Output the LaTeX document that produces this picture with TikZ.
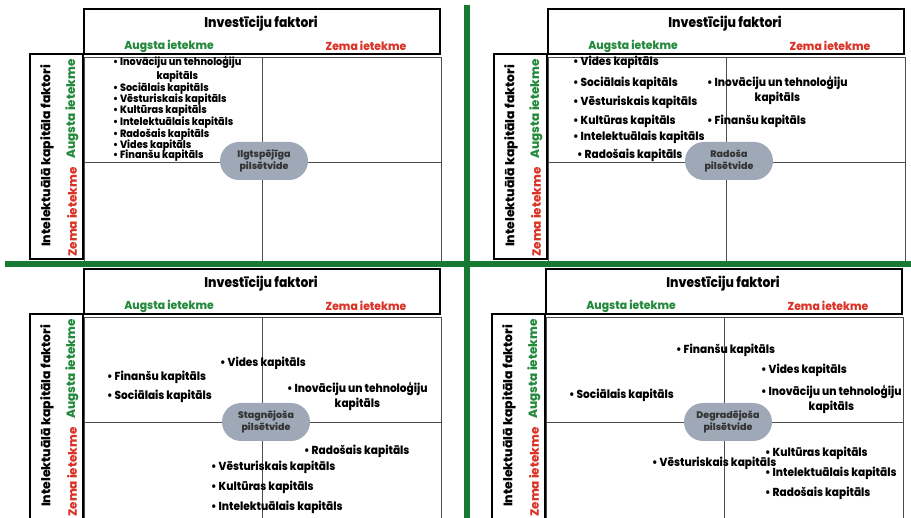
\documentclass[tikz,border=0pt]{standalone}
\usepackage{fontspec}
\IfFontExistsTF{Poppins ExtraBold}
  {\setmainfont{Poppins}[BoldFont={Poppins ExtraBold}]}
  {\setmainfont{Poppins}[BoldFeatures={FakeBold=1.5}]}
\usetikzlibrary{positioning}

\definecolor{hiGreen}{RGB}{38,138,62}
\definecolor{loRed}{RGB}{218,52,40}
\definecolor{sepGreen}{RGB}{22,122,52}
\definecolor{hubGray}{RGB}{158,168,182}

\begin{document}
\begin{tikzpicture}[x=1pt,y=1pt,yscale=-1,xscale=1,
  frame/.style={line width=1.6pt},
  grid/.style={draw=black!70,line width=0.8pt},
  hdr/.style={font=\fontsize{14}{15}\selectfont\bfseries,inner sep=0pt,xscale=0.88},
  vhdr/.style={font=\fontsize{12.4}{13}\selectfont\bfseries,inner sep=0pt,rotate=90},
  hi/.style={font=\fontsize{11.5}{12}\selectfont\bfseries,text=hiGreen,inner sep=0pt,xscale=0.94},
  lo/.style={font=\fontsize{11.5}{12}\selectfont\bfseries,text=loRed,inner sep=0pt,xscale=0.94},
  vhi/.style={font=\fontsize{12}{13}\selectfont\bfseries,text=hiGreen,inner sep=0pt,rotate=90},
  vlo/.style={font=\fontsize{12}{13}\selectfont\bfseries,text=loRed,inner sep=0pt,rotate=90},
  item/.style={anchor=west,inner sep=0pt,align=center,xscale=0.91,font=\fontsize{11.6}{15}\selectfont\bfseries},
  smallitem/.style={item,font=\fontsize{10.6}{14}\selectfont\bfseries},
  hub/.style={fill=hubGray,rounded corners=19pt,minimum width=88pt,minimum height=38pt,
    inner sep=0pt,align=center,text=black!80,font=\fontsize{9.5}{11.5}\selectfont\bfseries}]
\useasboundingbox (0,0) rectangle (911,518);
\clip (0,0) rectangle (911,518);

%Panels: frames and axis labels
\foreach \dx/\dy/\p in {0/0/a,464/0/b,0/260/c,462/260/d}{
  \begin{scope}[shift={(\dx,\dy)}]
    \draw[grid] (84,57) rectangle (441,262);
    \draw[grid] (262,57) -- (262,262) (84,162) -- (441,162);
    \draw[frame] (84,9) rectangle (440,54);
    \draw[frame] (30,54) rectangle (83,259);
    \node[hdr] (inv\p) at (261,24) {Investīciju faktori};
    \node[hi] (invhi\p) at (169,46) {Augsta ietekme};
    \node[lo] (invlo\p) at (366,46) {Zema ietekme};
    \node[vhdr] (ikf\p) at (47,156) {Intelektuālā kapitāla faktori};
    \node[vhi] (ikfhi\p) at (72,109) {Augsta ietekme};
    \node[vlo] (ikflo\p) at (72,212) {Zema ietekme};
  \end{scope}}

%Separators
\draw[sepGreen,line width=6pt] (5,264) -- (911,264);
\draw[sepGreen,line width=6pt] (467,5) -- (467,518);

% Top left
\node[hub] (hubtl) at (264,161) {Ilgtspējīga\\pilsētvide};
\node[smallitem] (tl1) at (113,69) {\textbullet\ Inovāciju un tehnoloģiju\\kapitāls};
\node[smallitem] (tl2) at (113,89) {\textbullet\ Sociālais kapitāls};
\node[smallitem] (tl3) at (113,100) {\textbullet\ Vēsturiskais kapitāls};
\node[smallitem] (tl4) at (113,111) {\textbullet\ Kultūras kapitāls};
\node[smallitem] (tl5) at (113,123) {\textbullet\ Intelektuālais kapitāls};
\node[smallitem] (tl6) at (113,135) {\textbullet\ Radošais kapitāls};
\node[smallitem] (tl7) at (113,146) {\textbullet\ Vides kapitāls};
\node[smallitem] (tl8) at (113,156) {\textbullet\ Finanšu kapitāls};

% Top right
\node[hub] (hubtr) at (729,161) {Radoša\\pilsētvide};
\node[item] (tr1) at (573,62) {\textbullet\ Vides kapitāls};
\node[item] (tr2) at (573,83) {\textbullet\ Sociālais kapitāls};
\node[item] (tr3) at (573,102) {\textbullet\ Vēsturiskais kapitāls};
\node[item] (tr4) at (573,121) {\textbullet\ Kultūras kapitāls};
\node[item] (tr5) at (573,137) {\textbullet\ Intelektuālais kapitāls};
\node[item] (tr6) at (577,155) {\textbullet\ Radošais kapitāls};
\node[item] (tr7) at (707,90.5) {\textbullet\ Inovāciju un tehnoloģiju\\kapitāls};
\node[item] (tr8) at (707,121) {\textbullet\ Finanšu kapitāls};

% Bottom left
\node[hub] (hubbl) at (266,422) {Stagnējoša\\pilsētvide};
\node[item] (bl1) at (220,363) {\textbullet\ Vides kapitāls};
\node[item] (bl2) at (107,377) {\textbullet\ Finanšu kapitāls};
\node[item] (bl3) at (107,396) {\textbullet\ Sociālais kapitāls};
\node[item] (bl4) at (287,396.5) {\textbullet\ Inovāciju un tehnoloģiju\\kapitāls};
\node[item] (bl5) at (304,451) {\textbullet\ Radošais kapitāls};
\node[item] (bl6) at (211,467) {\textbullet\ Vēsturiskais kapitāls};
\node[item] (bl7) at (211,487) {\textbullet\ Kultūras kapitāls};
\node[item] (bl8) at (211,507) {\textbullet\ Intelektuālais kapitāls};

% Bottom right
\node[hub] (hubbr) at (728,422) {Degradējoša\\pilsētvide};
\node[item] (br1) at (676,350) {\textbullet\ Finanšu kapitāls};
\node[item] (br2) at (761,370) {\textbullet\ Vides kapitāls};
\node[item] (br3) at (569,395) {\textbullet\ Sociālais kapitāls};
\node[item] (br4) at (761,399) {\textbullet\ Inovāciju un tehnoloģiju\\kapitāls};
\node[item] (br5) at (652,463) {\textbullet\ Vēsturiskais kapitāls};
\node[item] (br6) at (765,453) {\textbullet\ Kultūras kapitāls};
\node[item] (br7) at (765,473) {\textbullet\ Intelektuālais kapitāls};
\node[item] (br8) at (765,493) {\textbullet\ Radošais kapitāls};

\end{tikzpicture}
\end{document}
